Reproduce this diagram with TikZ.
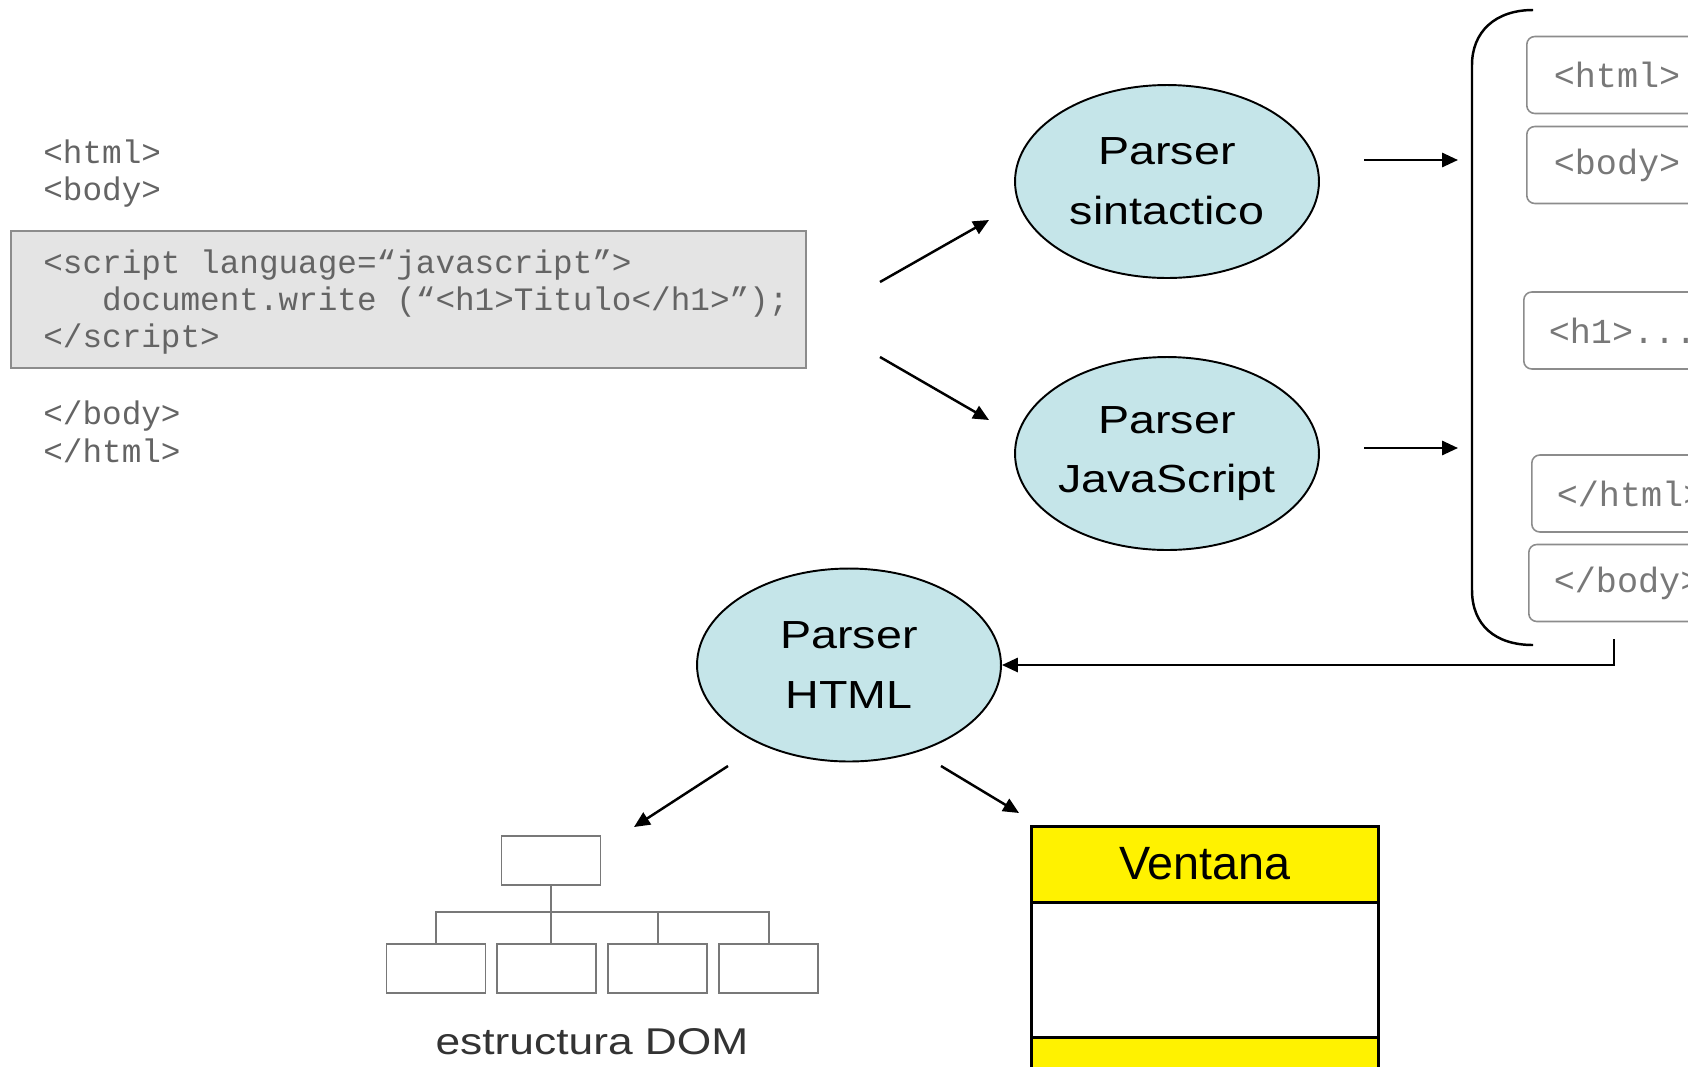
\documentclass[tikz,border=0pt]{standalone}
\usepackage{fontspec}
\setmainfont{Liberation Sans}
\setmonofont{Liberation Mono}
\newfontfamily\parserfont[FakeStretch=1.19]{Liberation Sans}
\usetikzlibrary{shapes.geometric, arrows.meta, positioning}
\definecolor{parsercyan}{RGB}{197,229,233}
\definecolor{codegray}{RGB}{228,228,228}
\definecolor{codetext}{RGB}{100,100,100}
\definecolor{tagtext}{RGB}{120,120,120}
\definecolor{tagline}{RGB}{140,140,140}
\definecolor{domline}{RGB}{120,120,120}
\tikzstyle{parser} = [ellipse, draw, line width=1.1pt, fill=parsercyan, minimum width=6.08cm, minimum height=3.86cm, inner xsep=-1.5mm, inner ysep=0pt, align=center, font=\parserfont\fontsize{22.3}{34}\selectfont]
\tikzstyle{code} = [anchor=west, inner sep=0pt, align=left, text=codetext, font=\ttfamily\fontsize{18.6}{21.3}\selectfont]
\tikzstyle{codebox} = [rectangle, draw=tagline, line width=1.1pt, fill=codegray, minimum width=15.9cm, minimum height=2.74cm]
\tikzstyle{tagbox} = [rectangle, rounded corners=0.16cm, draw=tagline, line width=0.9pt, minimum width=5cm, minimum height=1.54cm, anchor=west, text width=4cm, align=left, text=tagtext, font=\ttfamily\fontsize{20}{24}\selectfont]
\tikzstyle{dombox} = [rectangle, draw=domline, line width=1.1pt, minimum width=1.98cm, minimum height=0.98cm]
\tikzstyle{domedge} = [draw=domline, line width=1.1pt]
\tikzstyle{winpart} = [rectangle, draw, line width=1.7pt, outer sep=0pt, minimum width=6.96cm]
\tikzstyle{arrow} = [line width=1.4pt, -{Triangle[length=9pt,width=8pt]}]

\begin{document}
\begin{tikzpicture}[x=0.02cm, y=-0.02cm]
    \useasboundingbox (0,0) rectangle (1688,1066);
    \clip (0,0) rectangle (1688,1066);
    % source page
    \node [code] at (43,173.5) (open) {<html>\\<body>};
    \node [codebox] at (408.5,299.5) (scriptbox) {};
    \node [code] at (43,302) (script) {<script language=“javascript”>\\\phantom{xxx}document.write (“<h1>Titulo</h1>”);\\</script>};
    \node [code] at (43,432) (close) {</body>\\</html>};
    % parsers
    \node [parser] at (1167,181.5) (sint) {Parser\\sintactico};
    \node [parser] at (1167,453.5) (js) {Parser\\JavaScript};
    \node [parser] at (849,665) (htmlp) {Parser\\HTML};
    % token list
    \node [tagbox, inner xsep=0.54cm] at (1526,75) (thtml) {<html>};
    \node [tagbox, inner xsep=0.54cm] at (1526,165) (tbody) {<body>};
    \node [tagbox, inner xsep=0.34cm] at (1523,330.5) (th1) {<h1>...};
    \node [tagbox, inner xsep=0.24cm] at (1531,493.5) (tchtml) {</html>};
    \node [tagbox, inner xsep=0.36cm] at (1528,583) (tcbody) {</body>};
    \coordinate (bracetop) at (1533,10);
    \coordinate (bracebot) at (1533,645);
    \coordinate (bracefoot) at (1614,639);
    \draw [line width=1.4pt] (bracetop) .. controls (1495,10) and (1472,32) .. (1472,65) -- (1472,590) .. controls (1472,625) and (1495,645) .. (bracebot);
    % DOM tree
    \node [dombox] at (551,860.5) (dom0) {};
    \node [dombox] at (436,968.5) (dom1) {};
    \node [dombox, right=0.2cm of dom1] (dom2) {};
    \node [dombox, right=0.2cm of dom2] (dom3) {};
    \node [dombox, right=0.2cm of dom3] (dom4) {};
    \coordinate (bar) at (0,912);
    \draw [domedge] (dom1.north) -- (dom1.north |- bar) -- (dom4.north |- bar) -- (dom4.north);
    \draw [domedge] (dom3.north) -- (dom3.north |- bar);
    \draw [domedge] (dom0.south) -- (dom0.south |- dom2.north);
    \node [text=black!80, font=\parserfont\fontsize{21.2}{26}\selectfont] at (592,1042) (domlabel) {estructura DOM};
    % window
    \node [winpart, fill=yellow, minimum height=1.52cm, font=\fontsize{26.6}{30}\selectfont] at (1205,864) (ventana) {Ventana};
    \node [winpart, fill=white, minimum height=2.72cm, below=0pt of ventana] (vbody) {};
    \node [winpart, fill=yellow, minimum height=1.52cm, below=0pt of vbody] (vfoot) {};
    % connectors
    \coordinate (c1) at (880,282);
    \coordinate (c2) at (989,220);
    \coordinate (c3) at (880,357);
    \coordinate (c4) at (989,420);
    \coordinate (s1) at (1364,160);
    \coordinate (s2) at (1458,160);
    \coordinate (j1) at (1364,448);
    \coordinate (j2) at (1458,448);
    \coordinate (h1) at (728,766);
    \coordinate (h2) at (634,827);
    \coordinate (h3) at (941,766);
    \coordinate (h4) at (1019,813);
    \draw [arrow] (c1) -- (c2);
    \draw [arrow] (c3) -- (c4);
    \draw [arrow] (s1) -- (s2);
    \draw [arrow] (j1) -- (j2);
    \draw [arrow] (bracefoot) |- (htmlp);
    \draw [arrow] (h1) -- (h2);
    \draw [arrow] (h3) -- (h4);
\end{tikzpicture}
\end{document}
